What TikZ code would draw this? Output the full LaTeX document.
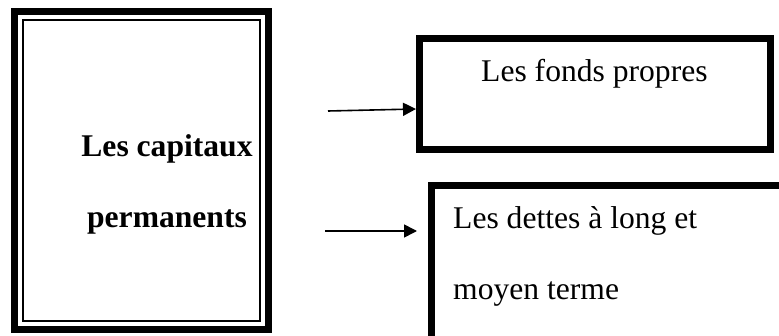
\documentclass[tikz,border=0pt]{standalone}
\usepackage{fontspec}
\setmainfont{Liberation Serif}
\usetikzlibrary{arrows.meta}

\begin{document}
\begin{tikzpicture}[x=1pt,y=-1pt,
    heavybox/.style={draw=black,line width=7pt,rectangle,inner sep=0pt},
    txt/.style={inner sep=0pt,font=\fontsize{31.6}{38}\selectfont},
    link/.style={line width=1.6pt,-{Triangle[length=13pt,width=13pt]}}]
  \useasboundingbox (0,0) rectangle (779,336);
  \clip (0,0) rectangle (779,336);

  % left box: heavy outer frame with a thin inner frame
  \node[heavybox,minimum width=254pt,minimum height=318pt] (cap) at (141.5,170.5) {};
  \draw[line width=2pt] (23,20) rectangle (260,321);
  \node[txt,anchor=base,font=\fontsize{31.6}{38}\selectfont\bfseries] (capa) at (167,157) {Les capitaux};
  \node[txt,anchor=base,font=\fontsize{31.6}{38}\selectfont\bfseries] (capb) at (167,228) {permanents};

  % upper right box
  \node[heavybox,minimum width=351pt,minimum height=111pt] (fp) at (595,94) {};
  \node[txt,anchor=base west] (fpt) at (481,82) {Les fonds propres};

  % lower right box (runs past the page edge)
  \node[heavybox,minimum width=351pt,minimum height=154pt] (dlt) at (607,263) {};
  \node[txt,anchor=base west] (dlta) at (453,229) {Les dettes à long et};
  \node[txt,anchor=base west] (dltb) at (453,300) {moyen terme};

  % connectors
  \coordinate (s1) at (328,111);
  \coordinate (s2) at (325,231);
  \draw[link] (s1) -- (fp.west |- 0,109);
  \draw[link,shorten >=11pt] (s2) -- (dlt.west |- s2);
\end{tikzpicture}
\end{document}
